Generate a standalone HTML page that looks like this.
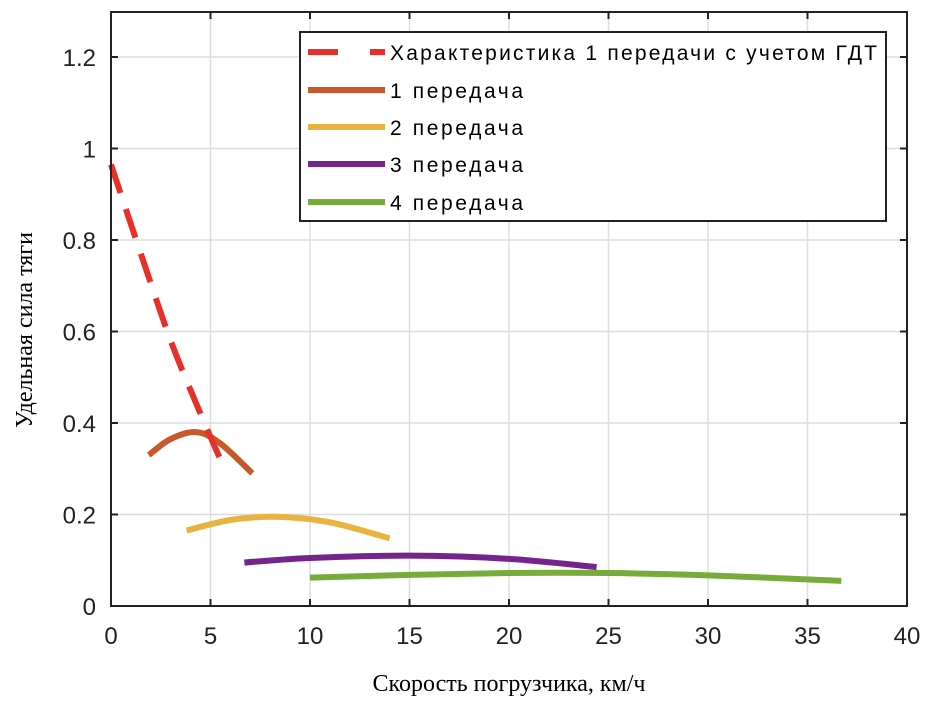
<!DOCTYPE html>
<html><head><meta charset="utf-8"><style>
body{margin:0;background:#fff}
svg text{font-family:"Liberation Sans","DejaVu Sans",sans-serif}
</style></head><body>
<svg id="chart" width="939" height="704" viewBox="0 0 939 704">
<g id="grid"></g>
<g id="series"></g>
<rect x="111" y="12" width="796" height="594" fill="none" stroke="#222" stroke-width="2"/>
<g id="ticks"></g>
<text x="509" y="691" text-anchor="middle" font-size="24" style="font-family:'Liberation Serif',serif">Скорость погрузчика, км/ч</text>
<text transform="translate(32,330) rotate(-90)" text-anchor="middle" font-size="24" style="font-family:'Liberation Serif',serif">Удельная сила тяги</text>
<g>
<rect x="300" y="32" width="586" height="189" fill="#fff" stroke="#222" stroke-width="2"/>
<line x1="308" y1="52" x2="338" y2="52" stroke="#e8302a" stroke-width="6"/>
<line x1="370" y1="52" x2="385" y2="52" stroke="#e8302a" stroke-width="6"/>
<text x="390" y="60" font-size="21" textLength="487" lengthAdjust="spacing">Характеристика 1 передачи с учетом ГДТ</text>
<line x1="308" y1="90" x2="385" y2="90" stroke="#c8572a" stroke-width="6"/>
<text x="390" y="98" font-size="21" textLength="133" lengthAdjust="spacing">1 передача</text>
<line x1="308" y1="127" x2="385" y2="127" stroke="#e8b43f" stroke-width="6"/>
<text x="390" y="135" font-size="21" textLength="133" lengthAdjust="spacing">2 передача</text>
<line x1="308" y1="164" x2="385" y2="164" stroke="#74248c" stroke-width="6"/>
<text x="390" y="172" font-size="21" textLength="133" lengthAdjust="spacing">3 передача</text>
<line x1="308" y1="202" x2="385" y2="202" stroke="#77ac3a" stroke-width="6"/>
<text x="390" y="210" font-size="21" textLength="133" lengthAdjust="spacing">4 передача</text>
</g>
</svg>
<script>
const xTicks=[0,5,10,15,20,25,30,35,40];
const yTicks=[0,0.2,0.4,0.6,0.8,1,1.2];
const yTickLabels=["0","0.2","0.4","0.6","0.8","1","1.2"];
const gdtX=[0,1.5,3,4.5,5.6];
const gdtY=[0.965,0.77,0.58,0.42,0.31];
const g1X=[1.9,3,4.3,5.5,7.1];
const g1Y=[0.33,0.365,0.38,0.355,0.29];
const g2X=[3.8,6,8.3,11,14];
const g2Y=[0.165,0.188,0.195,0.183,0.148];
const g3X=[6.7,10,15,20,24.4];
const g3Y=[0.095,0.105,0.11,0.103,0.085];
const g4X=[10,15,20,25,30,36.7];
const g4Y=[0.062,0.068,0.072,0.072,0.067,0.055];
const NS="http://www.w3.org/2000/svg";
function sx(v){return 111+v*19.9;}
function sy(v){return 606-v*457.5;}
const grid=document.getElementById('grid'),ticks=document.getElementById('ticks'),ser=document.getElementById('series');
function mk(tag,attrs,parent){const e=document.createElementNS(NS,tag);for(const k in attrs)e.setAttribute(k,attrs[k]);parent.appendChild(e);return e;}
xTicks.forEach(t=>{
  const g=mk('line',{x1:sx(t),x2:sx(t),y1:12,y2:606,stroke:'#ddd','stroke-width':1.5},grid);
  
  
  const a=mk('line',{x1:sx(t),x2:sx(t),y1:606,y2:599,stroke:'#222','stroke-width':2},ticks);
  
  
  const b=mk('line',{x1:sx(t),x2:sx(t),y1:12,y2:19,stroke:'#222','stroke-width':2},ticks);
  
  
  const l=mk('text',{x:sx(t),y:644,'text-anchor':'middle','font-size':24,fill:'#222'},ticks);
  l.textContent=t;
  
  
});
yTicks.forEach((t,i)=>{
  const g=mk('line',{x1:111,x2:907,y1:sy(t),y2:sy(t),stroke:'#ddd','stroke-width':1.5},grid);
  
  
  const a=mk('line',{x1:111,x2:118,y1:sy(t),y2:sy(t),stroke:'#222','stroke-width':2},ticks);
  
  
  const b=mk('line',{x1:900,x2:907,y1:sy(t),y2:sy(t),stroke:'#222','stroke-width':2},ticks);
  
  
  const l=mk('text',{x:96,y:sy(t)+9,'text-anchor':'end','font-size':24,fill:'#222'},ticks);
  l.textContent=yTickLabels[i];
  
  
});
function pathD(xs,ys){
  const p=xs.map((x,i)=>[sx(x),sy(ys[i])]);
  let d='M'+p[0][0]+','+p[0][1];
  for(let i=0;i<p.length-1;i++){
    const p0=p[i-1]||p[i],p1=p[i],p2=p[i+1],p3=p[i+2]||p2;
    const c1x=p1[0]+(p2[0]-p0[0])/6,c1y=p1[1]+(p2[1]-p0[1])/6;
    const c2x=p2[0]-(p3[0]-p1[0])/6,c2y=p2[1]-(p3[1]-p1[1])/6;
    d+=' C'+c1x+','+c1y+' '+c2x+','+c2y+' '+p2[0]+','+p2[1];
  }
  return d;
}
function addSeries(xs,ys,color,name,dash){
  const e=mk('path',{d:pathD(xs,ys),fill:'none',stroke:color,'stroke-width':6},ser);
  if(dash)e.setAttribute('stroke-dasharray',dash);
  
  
}
addSeries(g4X,g4Y,'#77ac3a','series-gear-4');
addSeries(g3X,g3Y,'#74248c','series-gear-3');
addSeries(g2X,g2Y,'#e8b43f','series-gear-2');
addSeries(g1X,g1Y,'#c8572a','series-gear-1');
addSeries(gdtX,gdtY,'#e8302a','series-gear-1-gdt','30,17');
</script>
</body></html>
